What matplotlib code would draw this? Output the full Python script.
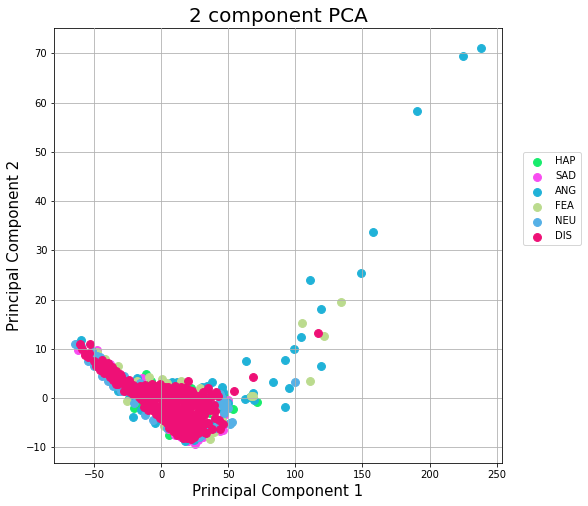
import matplotlib
matplotlib.use("Agg")
import matplotlib.pyplot as plt

targets = ["HAP", "SAD", "ANG", "FEA", "NEU", "DIS"]
colors = ["#17ec6c", "#f84cf0", "#20b2d8", "#bbdb8e", "#55b0e6", "#ee1076"]

hap_x = [-11.4, -20.7, 5.4, 53.8, 71, 41.3, -28, -8, 12, 30, 36, 47, -15, 22]
hap_y = [4.8, -2.1, -7.5, -2.3, -0.8, -5.8, 2, 3.5, -7, -6, -3, 0.5, -1.5, 2]

sad_x = [-62, -48, -57, 25, 15, 46.3, 50, -14.6, 10, 31, 44, 20, -38, -25, 5, 33, 47, 27, 40]
sad_y = [9.8, 9.7, 9, -9.3, -7.9, -6.4, -0.4, 4, -7.5, -8, -6.8, -8.7, 7, 3, -6.3, -6.8, -3.5, -8.5, -6.5]

ang_x = [238, 225, 191, 158, 149, 111, 119, 104.5, 99, 119, 63, 92, 95, 83, 92, 62.6, 66, 68.4, 69,
         -63, -60, -20.8, -18.3, 8, 37.8, 45, 46.3, 42, 50, -46, -38, -32, -24, -15, 2, 12, 24, 28, 38,
         34, 47, -5, 18, 16, 30, 44, 51]
ang_y = [71, 69.5, 58.2, 33.7, 25.3, 23.9, 18, 12.4, 10, 6.5, 7.6, 7.8, 2, 3.2, -1.8, -0.2, 0.3, 1.1, -0.5,
         11, 11.8, -3.9, 4, 3.3, 3.3, 2.3, 1.3, 0.6, -1, 6, 3.5, 1.5, 0, -2.5, 3, 3.2, -8.5, -8, -5, 2.5, -1.5, -5, -8.8, 3, 2.2, -2, -5]

fea_x = [134, 105, 121, 111, 67, -48, -32, -9.5, 0.3, 14.4, -25.6, 29, 22.7, 39.5, 39.5, 36, 2,
         68, -18, -42, 8, 25, 45, 33, 4, 42]
fea_y = [19.5, 15.2, 12.5, 3.5, 0.4, 9.4, 6.4, 4.2, 3.8, 3.5, -0.6, 2, 1.3, -2.8, -7, -8.4, -5.7,
         0.4, 3.5, 8, -6.5, -7.5, -4.5, -6, 3, -1.5]

neu_x = [100, -64, -60, -55, -52, -48, -46, -40, -36, -33, -30, -26, -22, -20, -12, -6, 10, 15, 28, 30,
         35, 40, 42, 47, 46.3, 45, 53, 51, 43, 38, 35, -50, -44, -28, -16, 4, 20, 25, 44, 48, 50]
neu_y = [3.2, 11, 10.5, 7.5, 9.5, 8.5, 8.3, 3.5, 2.5, 2.5, 1.5, 1.5, 1.5, -1, -3.5, -4.5, -6, -7.5, -8, -7.5,
         -5.5, -6, -5, -3, -1.6, 0, -4.8, -5.2, -1, -1.5, 0, 6.5, 4.5, 4.5, 3, -6, -8, -6.8, 0.8, -1, -2]

dis_x = [117, 68, 54, -61, -59, -53, -57, -55, -54, -50, -47, -44, -46, -42, -43, -39, -37, -36, -33, -31,
         -34, -29, -27, -25, -25, -22, -21, -19, -17, -16, -14, -13, -12, -11, -10, -9, -8, -7, -7, -6,
         -5, -4, -3, -3, -2, -1, 0, 0, 1, 2, 2, 3, 4, 5, 5, 6, 6, 7, 8, 8,
         9, 9, 10, 10, 11, 11, 12, 13, 13, 14, 14, 15, 15, 16, 17, 17, 18, 18, 19, 20,
         20, 20, 21, 22, 22, 23, 24, 24, 25, 26, 27, 27, 28, 29, 30, 30, 31, 32, 33, 34,
         34, 35, 36, 37, 38, 39, 40, 43, 44, 41,
         -15, -12, -9, -6, -3, 0, 3, 6, 9, 12, 15, 18, 21, 24, 27, 30, 33,
         -13, -10, -7, -4, -1, 2, 5, 8, 11, 14, 17, 20, 23, 26, 29, 32,
         -4, -1, 3, 7, 11, 15, 19, 23, 27, 31, 35,
         -6, -2, 1, 4, 8, 12, 16, 19, 22, 26, 29, 33,
         -49, -45, -41, -38, -35, -32, -30, -28, -26, -23, -20, -18, -15, -12, -9, -6,
         -40, -37, -34, -31, -28, -24, -21, -18, -15, -12, -9, -6, -3,
         -1, 1, 3, 6, 9, 11, 14, 16, 18, 21, 23, 25, 28, 31, 34, 37,
         -2, 1, 4, 7, 10, 13, 16, 19, 22, 25, 28, 31, 6, 9, 12, 15, 18, 21, 24, 27,
         12, 15, 18, 21, 24, 27, 30, 16, 19, 22, 25, 28, 40, 46, 42]
dis_y = [13.1, 4.2, 1.5, 11, 10, 11, 8.8, 8.3, 9.2, 7.6, 7, 7.8, 5.6, 6.8, 5, 5.4, 4.8, 3.6, 4.5, 3.4,
         2.9, 3.9, 2.6, 3, 1.6, 2.2, 0.9, 1.6, 0.3, 2.4, 1, -0.8, 2.6, 0.2, -1.8, 1.5, -0.6, 2.9, -2.5, 0.8,
         -1.4, 2, -3.2, 0.2, -1.8, 2.8, -3.9, 0.9, -1, -2.6, 1.8, -0.2, -4.4, -1.8, 2.3, 0.6, -3.4, -5.2, -0.9, 1.4,
         -2.7, -4.6, 2.4, 0.1, -5.9, -1.6, -3.6, 1, -0.5, -6.5, -2.4, -4.7, 2.2, 0.2, -7.2, -1.4, -3.3, -5.6, 1, 3.4,
         -0.6, -7.6, -2.4, -4.5, -6.3, 0.4, -1.4, -8, -3.3, -5.6, -0.5, -7.1, -2.4, -4.3, 0.6, -6.4, -1.5, -3.4, -7.2, -0.8,
         -5, 2, -2.4, 0.8, -6.2, -1.5, -4, -4.4, -6.3, 1.2,
         0, -1, 0.5, -0.8, 1, -0.2, 0.8, -0.4, 1, -0.2, 0.8, -0.6, 0.6, -0.8, 0.2, -1, -0.4,
         -1.8, -2.4, -1.6, -2.6, -1.8, -3.4, -3, -4, -3.4, -4.6, -4.4, -5, -5, -6, -5.2, -7,
         -3.2, -4, -4.6, -5.5, -6.5, -6.2, -6.8, -7.2, -6.2, -5, -5,
         -0.4, -2.8, -2, -3, -2.2, -2.5, -2.8, -4.2, -3.6, -4.4, -3.2, -2.2,
         6.4, 6, 5.8, 4.2, 3.8, 2.8, 4.4, 3.4, 2.2, 1.2, 2, 0.8, 1.6, 1.8, 2, 2.2,
         7.2, 6.2, 5.4, 4.8, 1.4, 3.6, 2.6, 1, -0.2, -0.2, -1, -1.6, 2.4,
         1.6, 1.2, 2.2, 1.9, 1.7, 0.7, 1.5, 1.2, 2, 1.6, 1.4, 0.6, 0.4, 1.2, -1.2, 0.2,
         -3, -4.4, -5, -4.2, -5.4, -5.8, -3.6, -7, -1.6, -6.2, -1, -5.4, -6, -6.6, -7.2, -6.6, -7, -5.6, -6.8, -4.8,
         -7.6, -6.8, -8, -7.4, -7.8, -6, -5, -8.2, -8.2, -8.4, -7, -5.6, -2.6, -5.2, 0.4]

xs = [hap_x, sad_x, ang_x, fea_x, neu_x, dis_x]
ys = [hap_y, sad_y, ang_y, fea_y, neu_y, dis_y]

fig = plt.figure(figsize=(588 / 72, 506 / 72), dpi=72)
ax = fig.add_axes([54.3 / 588, (506 - 463.3) / 506, 447.4 / 588, 435 / 506])

for target, color, x, y in zip(targets, colors, xs, ys):
    ax.scatter(x, y, c=color, s=62, label=target)

ax.set_xlim(-79.8, 253.8)
ax.set_ylim(-13.26, 75.07)
ax.set_xlabel("Principal Component 1", fontsize=15)
ax.set_ylabel("Principal Component 2", fontsize=15)
ax.set_title("2 component PCA", fontsize=20)
ax.grid(True)
ax.set_axisbelow(False)
ax.legend(loc="center left", bbox_to_anchor=(1.048, 0.608), borderaxespad=0)

fig.savefig("out.png", dpi=72, facecolor="white")
